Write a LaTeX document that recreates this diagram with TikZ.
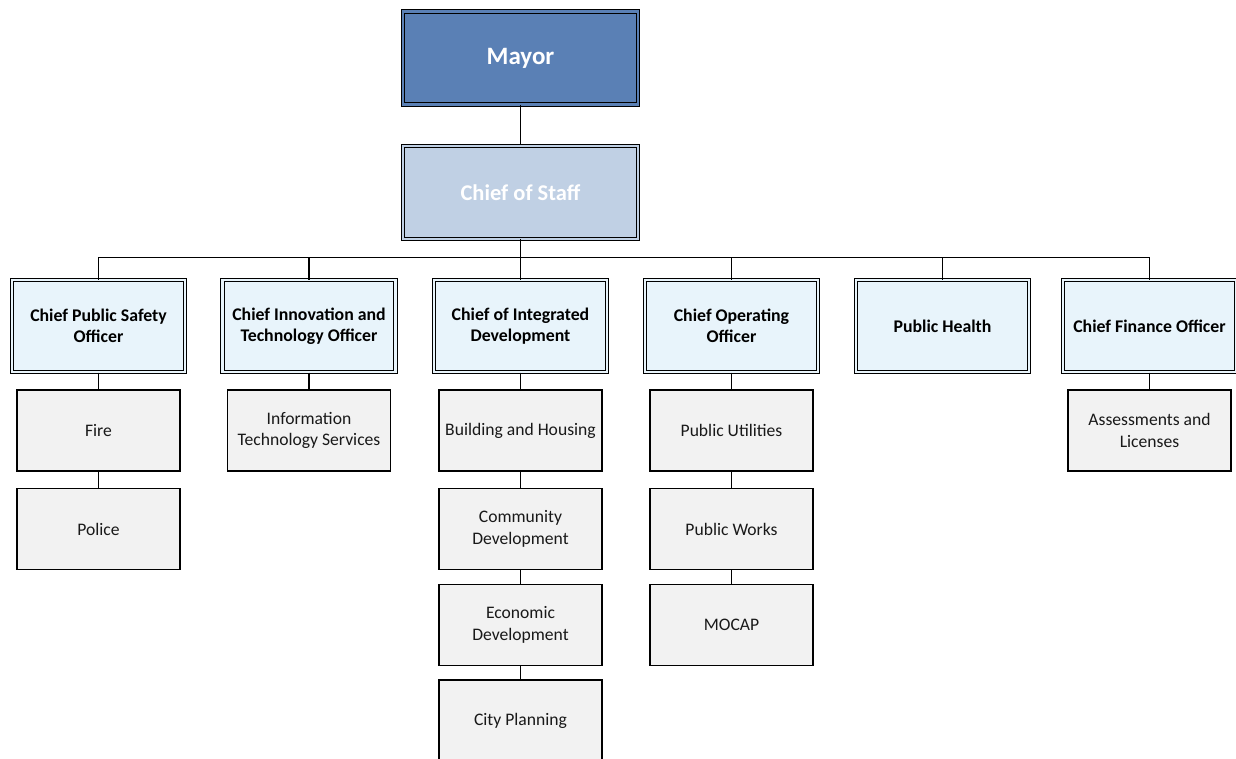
\documentclass[tikz,border=0pt]{standalone}
\usepackage{fontspec}
\setmainfont{Carlito}
\definecolor{mayorblue}{HTML}{5A80B5}
\definecolor{staffblue}{HTML}{C0D0E4}
\definecolor{chiefblue}{HTML}{E8F4FB}
\definecolor{unitgray}{HTML}{F2F2F2}
\tikzset{
  x=1pt, y=-1pt,
  link/.style={draw=black, line width=1.1pt},
  topbox/.style={draw=black, line width=1pt, double distance=2.2pt,
    minimum width=235pt, minimum height=93pt, inner sep=0pt,
    font=\bfseries\fontsize{25}{30}\selectfont, text=white},
  chiefbox/.style={draw=black, line width=1pt, double=chiefblue, fill=chiefblue,
    double distance=2.2pt, minimum width=173pt, minimum height=92pt,
    inner sep=0pt, align=center, font=\bfseries\fontsize{17.8}{21}\selectfont},
  unitbox/.style={draw=black, line width=1.1pt, fill=unitgray,
    minimum width=163pt, minimum height=81pt, inner sep=0pt, align=center,
    font=\fontsize{17.6}{21.5}\selectfont, text=black!90}
}
\begin{document}
\begin{tikzpicture}
\useasboundingbox (0,0) rectangle (1236,759);
\clip (0,0) rectangle (1236,759);

% executive offices
\node[topbox, fill=mayorblue, double=mayorblue] (mayor) at (520.5,58) {Mayor};
\node[topbox, fill=staffblue, double=staffblue,
      font=\bfseries\fontsize{22.5}{27}\selectfont] (staff) at (520.5,192.5) {Chief of Staff};

% chiefs
\node[chiefbox] (safety) at (98.5,326) {Chief Public Safety\\Officer};
\node[chiefbox] (tech)   at (309,326) {Chief Innovation and\\Technology Officer};
\node[chiefbox] (devel)  at (520.5,326) {Chief of Integrated\\Development};
\node[chiefbox] (oper)   at (731.5,326) {Chief Operating\\Officer};
\node[chiefbox] (health) at (942.5,326) {Public Health};
\node[chiefbox] (fin)    at (1149.5,326) {Chief Finance Officer};

% departments
\node[unitbox] (fire)    at (98.5,430.5) {Fire};
\node[unitbox] (police)  at (98.5,529) {Police};
\node[unitbox] (its)     at (309,430.5) {Information\\Technology Services};
\node[unitbox] (bldg)    at (520.5,430.5) {Building and Housing};
\node[unitbox] (comm)    at (520.5,529) {Community\\Development};
\node[unitbox] (econ)    at (520.5,625) {Economic\\Development};
\node[unitbox] (plan)    at (520.5,720.5) {City Planning};
\node[unitbox] (util)    at (731.5,430.5) {Public Utilities};
\node[unitbox] (works)   at (731.5,529) {Public Works};
\node[unitbox] (mocap)   at (731.5,625) {MOCAP};
\node[unitbox] (assess)  at (1149.5,430.5) {Assessments and\\Licenses};

% reporting lines
\draw[link] (mayor.south) -- (staff.north);
\foreach \c in {safety,tech,devel,oper,health,fin}
  \draw[link] (staff.south) -- ++(0,18) -| (\c.north);
\draw[link] (safety.south) -- (fire.north);
\draw[link] (fire.south) -- (police.north);
\draw[link] (tech.south) -- (its.north);
\draw[link] (devel.south) -- (bldg.north);
\draw[link] (bldg.south) -- (comm.north);
\draw[link] (comm.south) -- (econ.north);
\draw[link] (econ.south) -- (plan.north);
\draw[link] (oper.south) -- (util.north);
\draw[link] (util.south) -- (works.north);
\draw[link] (works.south) -- (mocap.north);
\draw[link] (fin.south) -- (assess.north);
\end{tikzpicture}
\end{document}
